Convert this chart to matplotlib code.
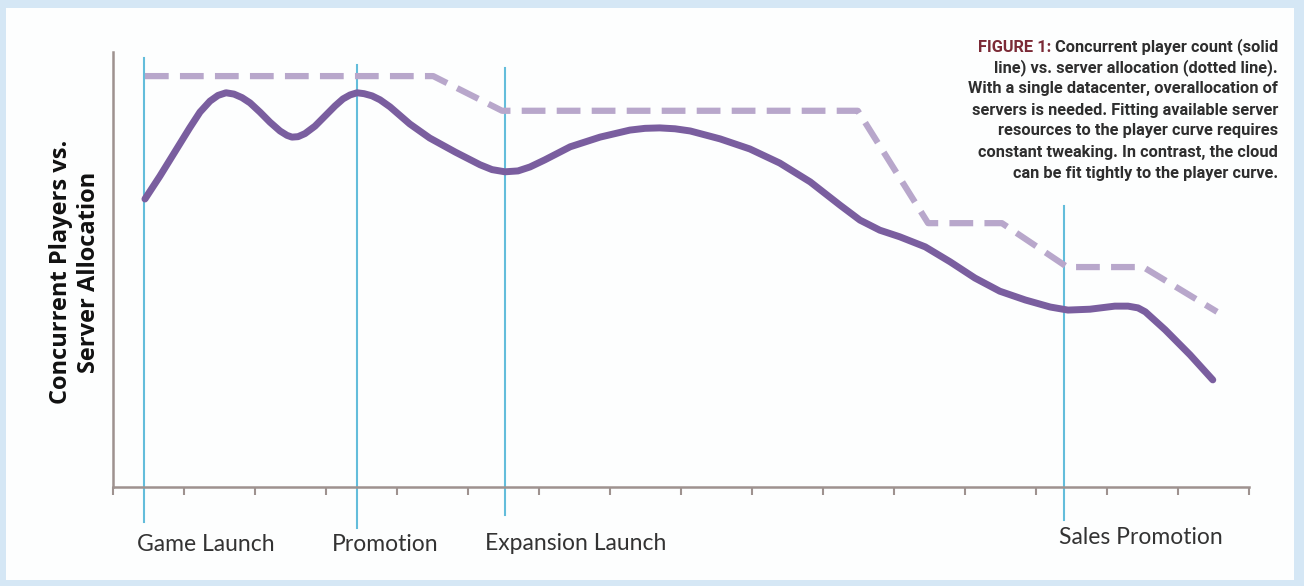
"""Concurrent players vs. server allocation over a game's lifetime."""

import matplotlib
matplotlib.use("Agg")
import matplotlib.pyplot as plt
import matplotlib.transforms as mtransforms
from matplotlib.patches import Rectangle

# time axis runs 0..16 (one unit per tick), values on an arbitrary 0..100 scale
player_x = [0.45, 0.66, 0.87, 1.08, 1.225, 1.366, 1.479, 1.592, 1.704, 1.817,
            1.930, 2.070, 2.211, 2.352, 2.451, 2.521, 2.606, 2.704, 2.845, 2.986,
            3.127, 3.239, 3.338, 3.437, 3.535, 3.648, 3.761, 3.901, 4.18, 4.46,
            4.82, 5.17, 5.338, 5.52, 5.704, 5.873, 6.08, 6.44, 6.86, 7.28, 7.493,
            7.70, 7.915, 8.13, 8.55, 8.97, 9.39, 9.82, 10.24, 10.52, 10.80, 11.08,
            11.44, 11.79, 12.14, 12.49, 12.85, 13.20, 13.45, 13.76, 14.11, 14.296,
            14.437, 14.54, 14.82, 15.17, 15.49]
player_y = [65.6, 70.8, 76.3, 81.8, 85.4, 87.9, 89.2, 89.8, 89.5, 88.7,
            87.5, 85.4, 83.1, 81.1, 80.1, 79.7, 79.8, 80.5, 82.2, 84.5,
            86.8, 88.4, 89.3, 89.8, 89.6, 89.1, 88.2, 86.6, 82.7, 79.5,
            76.3, 73.4, 72.3, 71.8, 72.0, 72.9, 74.5, 77.5, 79.7, 81.3, 81.7,
            81.8, 81.6, 81.1, 79.3, 77.0, 73.8, 69.5, 64.2, 60.8, 58.5, 57.0,
            54.7, 51.3, 47.6, 44.6, 42.6, 41.0, 40.3, 40.5, 41.2, 41.2,
            40.8, 39.9, 35.8, 30.1, 24.4]

server_x = [0.45, 4.51, 5.48, 10.49, 11.48, 12.52, 13.44, 14.51, 15.55]
server_y = [93.6, 93.6, 85.7, 85.7, 60.1, 60.1, 50.1, 50.1, 39.9]

event_labels = ["Game Launch", "Promotion", "Expansion Launch", "Sales Promotion"]
event_x = [0.44, 3.44, 5.52, 13.4]
event_top = [97.7, 96.1, 95.4, 64.0]
event_bottom = [-8.0, -9.3, -6.4, -7.5]
label_x = [1.31, 3.83, 6.52, 14.48]
label_fig_y = [0.070, 0.070, 0.072, 0.082]

caption_lines = [
    " Concurrent player count (solid",
    "line) vs. server allocation (dotted line).",
    "With a single datacenter, overallocation of",
    "servers is needed. Fitting available server",
    "resources to the player curve requires",
    "constant tweaking. In contrast, the cloud",
    "can be fit tightly to the player curve.",
]

BG_BLUE = "#d5e7f5"
AXIS_GRAY = "#9e928f"
PLAYER_PURPLE = "#7a5e9f"
SERVER_PURPLE = "#b8a7cb"
EVENT_BLUE = "#63bddb"
CAPTION_FONT = ["Roboto", "DejaVu Sans"]

fig = plt.figure(figsize=(13.04, 5.86), dpi=100, facecolor=BG_BLUE)
fig.patches.append(Rectangle((6 / 1304, 1 - 580 / 586), 1288 / 1304, 572 / 586,
                             transform=fig.transFigure, facecolor="#fdfefe",
                             edgecolor="none", zorder=-5))

ax = fig.add_axes([113 / 1304, 99 / 586, 1136 / 1304, 439 / 586])
ax.set_facecolor("none")
ax.set_xlim(0, 16)
ax.set_ylim(0, 100)

for side in ("top", "right"):
    ax.spines[side].set_visible(False)
for side in ("left", "bottom"):
    ax.spines[side].set_color(AXIS_GRAY)
    ax.spines[side].set_linewidth(1.8)
ax.spines["left"].set_bounds(0, 99)
ax.set_xticks(range(17))
ax.set_xticklabels([])
ax.set_yticks([])
ax.tick_params(axis="x", direction="out", length=6, width=1.5, color=AXIS_GRAY)

# event markers
for x, top, bottom in zip(event_x, event_top, event_bottom):
    ax.plot([x, x], [bottom, top], color=EVENT_BLUE, linewidth=1.5,
            clip_on=False, zorder=2)

ax.plot(server_x, server_y, color=SERVER_PURPLE, linewidth=4.5,
        linestyle=(0, (3.8, 1.8)), solid_joinstyle="round", zorder=3)
ax.plot(player_x, player_y, color=PLAYER_PURPLE, linewidth=5,
        solid_capstyle="round", solid_joinstyle="round", zorder=4)

trans = mtransforms.blended_transform_factory(ax.transData, fig.transFigure)
for label, lx, ly in zip(event_labels, label_x, label_fig_y):
    ax.text(lx, ly, label, transform=trans, ha="center", va="center",
            fontsize=16.5, family="Lato", color="#333333")

fig.text(75 / 1304, 1 - 272 / 586, "Concurrent Players vs.\nServer Allocation",
         rotation=90, ha="center", va="center", multialignment="center",
         fontsize=17, family="Open Sans", fontweight="bold", color="#111111",
         linespacing=1.2)

# caption, right aligned, with the red figure number in front of the first line
cap_x = 1278 / 1304
first = None
for i, line in enumerate(caption_lines):
    t = fig.text(cap_x, 1 - (47 + 21 * i) / 586, line, ha="right", va="center",
                 fontsize=11.8, family=CAPTION_FONT, fontweight="bold",
                 color="#2e2e2e")
    if i == 0:
        first = t

fig.canvas.draw()
bbox = first.get_window_extent(fig.canvas.get_renderer())
fig.text(bbox.x0 / fig.bbox.width, 1 - 47 / 586, "FIGURE 1:", ha="right",
         va="center", fontsize=11.8, family=CAPTION_FONT, fontweight="bold",
         color="#7b2a36")

fig.savefig("out.png", dpi=100, facecolor=BG_BLUE)
